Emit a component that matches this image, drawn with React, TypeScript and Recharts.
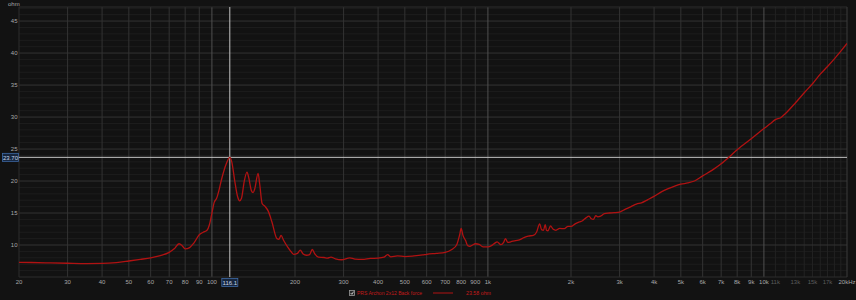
import {
  LineChart,
  Line,
  XAxis,
  YAxis,
  ReferenceLine,
} from "recharts";

// impedance sweep
const freqs = [
  20, 25, 30, 35, 40, 45, 50, 55, 60, 65, 70, 73, 76, 78, 80, 83, 86, 90, 93, 96, 98,
  100, 102, 104, 106, 108, 110, 113, 116.1, 118, 121, 124, 126, 128, 131, 134, 136, 139,
  141, 143, 147, 149, 152, 156, 160, 165, 172, 175, 178, 182, 188, 194, 198, 204, 209,
  214, 220, 226, 231, 236, 243, 255, 262, 270, 280, 295, 316, 330, 350, 375, 400, 420,
  433, 445, 470, 500, 540, 580, 600, 650, 700, 740, 770, 790, 800, 812, 830, 845, 860,
  880, 900, 930, 960, 1000, 1030, 1060, 1080, 1114, 1140, 1157, 1180, 1210, 1260, 1300,
  1350, 1400, 1460, 1500, 1540, 1565, 1590, 1613, 1630, 1650, 1686, 1720, 1764, 1820,
  1891, 1950, 2000, 2070, 2143, 2200, 2260, 2325, 2370, 2411, 2460, 2500, 2560, 2642,
  2750, 2867, 3000, 3150, 3300, 3450, 3600, 3800, 4000, 4250, 4500, 4750, 5000, 5300,
  5600, 6000, 6500, 7000, 7500, 8000, 9000, 10000, 10500, 11000, 11500, 12000, 13000,
  14000, 15000, 16000, 17000, 18000, 19000, 20000,
];
const ohms = [
  7.3, 7.22, 7.15, 7.1, 7.12, 7.25, 7.5, 7.75, 8.0, 8.35, 8.85, 9.4, 10.2, 9.9, 9.4, 9.6,
  10.3, 11.6, 12.0, 12.3, 13.2, 15.0, 16.7, 17.3, 18.5, 20.0, 21.3, 22.8, 23.7, 23.0,
  20.0, 17.5, 16.9, 17.3, 20.0, 21.4, 20.5, 18.5, 18.2, 18.8, 21.2, 19.5, 16.5, 16.0,
  15.3, 13.6, 11.0, 10.9, 11.5, 10.7, 9.7, 8.9, 8.55, 8.7, 9.2, 8.6, 8.4, 8.5, 9.3, 8.6,
  8.1, 8.05, 7.95, 8.1, 7.85, 7.7, 8.0, 7.8, 7.75, 7.9, 7.95, 8.1, 8.5, 8.15, 8.3, 8.2,
  8.3, 8.45, 8.55, 8.7, 8.85, 9.3, 10.0, 11.6, 12.6, 11.5, 10.7, 9.9, 9.8, 10.0, 10.2,
  10.1, 9.7, 9.7, 9.9, 10.3, 10.5, 10.05, 10.4, 11.0, 10.4, 10.5, 10.7, 10.8, 11.15,
  11.4, 11.5, 12.0, 13.3, 12.4, 12.3, 13.2, 12.3, 12.2, 13.0, 12.5, 12.3, 12.6, 12.55,
  12.9, 12.9, 13.3, 13.6, 13.8, 14.2, 14.5, 14.1, 14.0, 14.6, 14.4, 14.5, 14.9, 15.0,
  15.05, 15.15, 15.6, 16.0, 16.4, 16.6, 17.1, 17.6, 18.3, 18.8, 19.2, 19.5, 19.7, 20.0,
  20.8, 21.7, 22.7, 23.8, 24.9, 26.6, 28.2, 28.9, 29.6, 29.9, 30.6, 32.2, 33.8, 35.2,
  36.7, 37.9, 39.1, 40.3, 41.5,
];

const xTicks = [
  20, 30, 40, 50, 60, 70, 80, 90, 100, 200, 300, 400, 500, 600, 700, 800, 900, 1000,
  2000, 3000, 4000, 5000, 6000, 7000, 8000, 9000, 10000, 11000, 13000, 15000, 17000, 20000,
];
const xTickNames = [
  "20", "30", "40", "50", "60", "70", "80", "90", "100", "200", "300", "400", "500",
  "600", "700", "800", "900", "1k", "2k", "3k", "4k", "5k", "6k", "7k", "8k", "9k",
  "10k", "11k", "13k", "15k", "17k", "20kHz",
];
const dimTicks = [11000, 13000, 15000, 17000];
const yTicks = [10, 15, 20, 25, 30, 35, 40, 45];

const gridX = [
  30, 40, 50, 60, 70, 80, 90, 200, 300, 400, 500, 600, 700, 800, 900, 2000, 3000, 4000,
  5000, 6000, 7000, 8000, 9000,
];
const decadeX = [100, 1000, 10000];
const fineX = [11000, 12000, 13000, 14000, 15000, 16000, 17000, 18000, 19000];
const minorY = [
  6, 7, 8, 9, 11, 12, 13, 14, 16, 17, 18, 19, 21, 22, 23, 24, 26, 27, 28, 29, 31, 32, 33,
  34, 36, 37, 38, 39, 41, 42, 43, 44, 46, 47,
];

const cursorHz = 116.1;
const cursorOhm = 23.7;
const seriesName = "PRS Archon 2x12 Back force";
const readout = "23.58 ohm";

const data = freqs.map((f, i) => ({ f, z: ohms[i] }));

const RED = "#b01212";
const FONT = "'Liberation Sans', Arial, sans-serif";
const FS = 6;

function XTick(props: any) {
  const { x, y, payload } = props;
  const i = xTicks.indexOf(payload.value);
  const dim = dimTicks.includes(payload.value);
  return (
    <text x={x} y={y + 7.3} textAnchor="middle" fontSize={FS} fontFamily={FONT}
      fill={dim ? "#5c5c5c" : "#a8a8a8"}>
      {xTickNames[i]}
    </text>
  );
}

function YTick(props: any) {
  const { x, y, payload } = props;
  return (
    <text x={x - 1.5} y={y + 2.2} textAnchor="end" fontSize={FS} fontFamily={FONT} fill="#a8a8a8">
      {payload.value}
    </text>
  );
}

function CursorXLabel(props: any) {
  const vb = props.viewBox || {};
  const x = vb.x;
  const y = vb.y + vb.height;
  return (
    <g>
      <rect x={x - 8} y={y + 1.5} width={16} height={8} fill="#16263e" stroke="#3f6aa6" strokeWidth={0.8} />
      <text x={x} y={y + 7.6} textAnchor="middle" fontSize={FS} fontFamily={FONT} fill="#c8d6ea">
        {cursorHz.toFixed(1)}
      </text>
    </g>
  );
}

function CursorYLabel(props: any) {
  const vb = props.viewBox || {};
  const x = vb.x;
  const y = vb.y;
  return (
    <g>
      <rect x={x - 16.5} y={y - 4} width={16} height={8} fill="#16263e" stroke="#3f6aa6" strokeWidth={0.8} />
      <text x={x - 8.5} y={y + 2.2} textAnchor="middle" fontSize={FS} fontFamily={FONT} fill="#c8d6ea">
        {cursorOhm.toFixed(2)}
      </text>
    </g>
  );
}

export default function App() {
  return (
    <div style={{ position: "fixed", left: 0, top: 0, width: 856, height: 300, background: "#121212", overflow: "hidden" }}>
      <LineChart width={856} height={300} data={data} margin={{ top: 7, right: 9, bottom: 0, left: 0 }}>
        {minorY.map((v) => (
          <ReferenceLine key={"my" + v} y={v} stroke="#1d1d1d" strokeWidth={1} />
        ))}
        {fineX.map((v) => (
          <ReferenceLine key={"fx" + v} x={v} stroke="#222222" strokeWidth={1} />
        ))}
        {yTicks.map((v) => (
          <ReferenceLine key={"y" + v} y={v} stroke="#333333" strokeWidth={1} />
        ))}
        {gridX.map((v) => (
          <ReferenceLine key={"x" + v} x={v} stroke="#333333" strokeWidth={1} />
        ))}
        {decadeX.map((v) => (
          <ReferenceLine key={"d" + v} x={v} stroke="#505050" strokeWidth={1} />
        ))}
        <ReferenceLine y={47.2} stroke="#2c2c2c" />
        <ReferenceLine y={5} stroke="#2c2c2c" />
        <ReferenceLine x={20000} stroke="#3a3a3a" />
        <ReferenceLine x={20} stroke="#2c2c2c" />
        <XAxis
          dataKey="f"
          type="number"
          scale="log"
          domain={[20, 20000]}
          ticks={xTicks}
          interval={0}
          allowDataOverflow
          height={23}
          axisLine={false}
          tickLine={false}
          tickSize={0}
          tickMargin={0}
          tick={<XTick />}
        />
        <YAxis
          type="number"
          domain={[5, 47.2]}
          ticks={yTicks}
          interval={0}
          allowDataOverflow
          width={19}
          axisLine={false}
          tickLine={false}
          tickSize={0}
          tickMargin={0}
          tick={<YTick />}
        />
        <ReferenceLine x={cursorHz} stroke="#c4c4c4" strokeWidth={1} label={<CursorXLabel />} />
        <ReferenceLine y={cursorOhm} stroke="#c4c4c4" strokeWidth={1} label={<CursorYLabel />} />
        <Line
          type="monotone"
          dataKey="z"
          stroke={RED}
          strokeWidth={1.3}
          dot={false}
          activeDot={false}
          isAnimationActive={false}
        />
      </LineChart>
      <svg width={856} height={300} style={{ position: "absolute", left: 0, top: 0, pointerEvents: "none" }}>
        <text x={8} y={6} fontSize={FS} fontFamily={FONT} fill="#a8a8a8">ohm</text>
        <rect x={349.5} y={290.5} width={5} height={5} fill="#2a2a2a" stroke="#9a9a9a" strokeWidth={0.8} />
        <path d="M350.7 293 L351.9 294.3 L353.6 291.6" fill="none" stroke="#e0e0e0" strokeWidth={0.8} />
        <text x={357} y={295.2} fontSize={5.8} fontFamily={FONT} fill="#c41a1a"
          textLength={65} lengthAdjust="spacingAndGlyphs">{seriesName}</text>
        <line x1={433} y1={293} x2={453} y2={293} stroke={RED} strokeWidth={1} />
        <text x={466} y={295.2} fontSize={5.8} fontFamily={FONT} fill="#c41a1a"
          textLength={25} lengthAdjust="spacingAndGlyphs">{readout}</text>
      </svg>
    </div>
  );
}
